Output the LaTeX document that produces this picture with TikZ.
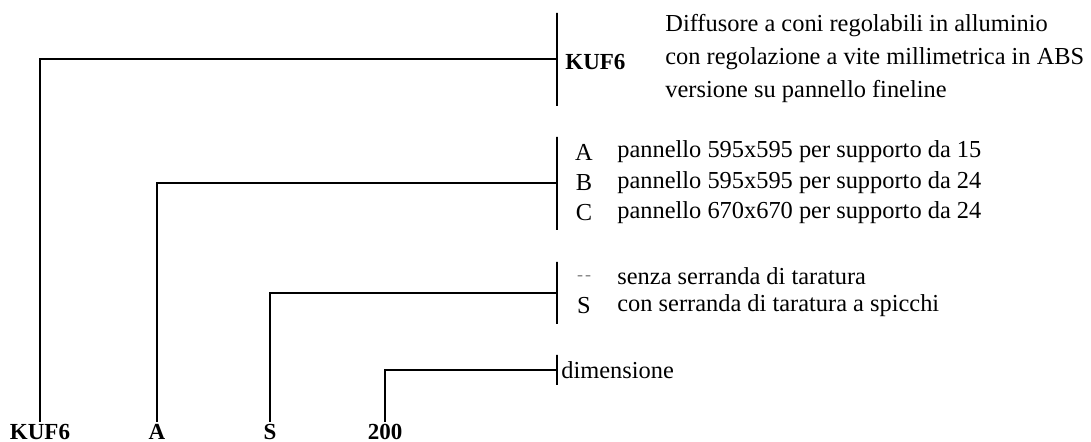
\documentclass[tikz,border=0pt]{standalone}
\usepackage{fontspec}
\setmainfont{Liberation Serif}
\usetikzlibrary{positioning}

\begin{document}
\begin{tikzpicture}[x=0.5pt,y=-0.5pt,font=\fontsize{12.2}{14}\selectfont,
 bar/.style={draw,line width=1pt,inner sep=0pt,outer sep=0pt,minimum width=0pt},
 code/.style={font=\fontsize{11.5}{13}\selectfont\bfseries,inner sep=1pt},
 opt/.style={anchor=west,inner sep=0pt},
 key/.style={inner sep=0pt},
 lnk/.style={line width=1pt}]
\useasboundingbox (0,0) rectangle (1091,442);
% bars
\node[bar,minimum height=46.5pt] (b1) at (557,59.5) {};
\node[bar,minimum height=46.5pt] (b2) at (557,183.5) {};
\node[bar,minimum height=31pt] (b3) at (557,293) {};
\node[bar,minimum height=15pt] (b4) at (557,370) {};
% codes at the bottom
\node[code] (kuf) at (40,432) {KUF6};
\node[code] (pan) at (157,432) {A};
\node[code] (ser) at (270,432) {S};
\node[code] (dim) at (385,432) {200};
% texts of the bars
\node[code,anchor=west] (kuft) at (563,62) {KUF6};
\node[opt] (d1) at (665,26) {Diffusore a coni regolabili in alluminio};
\node[opt] (d2) at (665,59) {con regolazione a vite millimetrica in ABS};
\node[opt] (d3) at (665,92) {versione su pannello fineline};
\node[key] (ka) at (584,152) {A};
\node[key] (kb) at (584,183) {B};
\node[key] (kc) at (584,213) {C};
\node[opt] (ta) at (617,152) {pannello 595x595 per supporto da 15};
\node[opt] (tb) at (617,183) {pannello 595x595 per supporto da 24};
\node[opt] (tc) at (617,213) {pannello 670x670 per supporto da 24};
\node[key,font=\small\itshape,text=gray] (kn) at (584,278) {-\kern1pt-};
\node[key] (ks) at (584,306) {S};
\node[opt] (tn) at (617,276) {senza serranda di taratura};
\node[opt] (ts) at (617,306) {con serranda di taratura a spicchi};
\node[opt] (td) at (561,370) {dimensione};
% connectors
\draw[lnk] (kuf.north) |- (b1.west);
\draw[lnk] (pan.north) |- (b2.west);
\draw[lnk] (ser.north) |- (b3.west);
\draw[lnk] (dim.north) |- (b4.west);
\end{tikzpicture}
\end{document}
